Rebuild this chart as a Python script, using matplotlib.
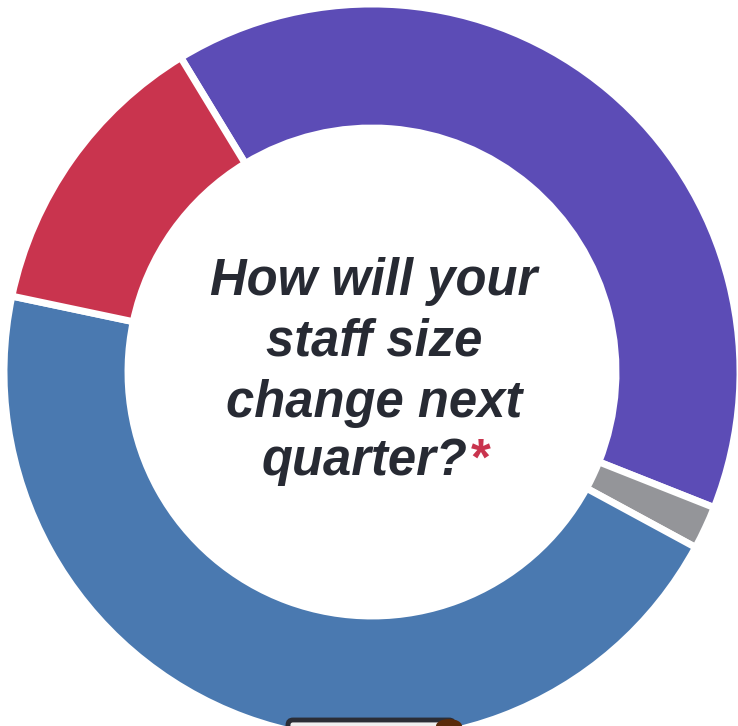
import matplotlib.pyplot as plt
from matplotlib.patches import FancyBboxPatch, Ellipse

# share of answers, clockwise from the top-left gap
labels = ['Increase', 'Not sure', 'Stay the same', 'Decrease']
shares = [39.7, 1.9, 45.4, 13.0]
colors = ['#5c4cb6', '#949599', '#4a79b0', '#c9344e']

question = ['How will your', 'staff size', 'change next', 'quarter?']

W, H = 738, 726
fig = plt.figure(figsize=(W / 100, H / 100), dpi=100)
ax = fig.add_axes([0, 0, 1, 1])

# donut
ax.pie(shares, colors=colors, startangle=121.3, counterclock=False,
       center=(372, H - 372), radius=368,
       wedgeprops=dict(width=124, edgecolor='white', linewidth=5))

# question in the hole
font = dict(family=['Liberation Sans', 'DejaVu Sans'], fontsize=36.5,
            fontweight='bold', fontstyle='italic', color='#272a33')
baselines = [295, 356, 417, 475]
for i, line in enumerate(question):
    x = 374 if i < 3 else 364
    t = ax.text(x, H - baselines[i], line, ha='center', va='baseline', **font)
ax.annotate('*', xy=(1, 0), xycoords=t, xytext=(1, 0), textcoords='offset points',
            ha='left', va='bottom', fontsize=36.5, fontweight='bold',
            fontstyle='italic', color='#c9344e',
            family=['Liberation Sans', 'DejaVu Sans'])

# bit of a card peeking in at the bottom
ax.add_patch(FancyBboxPatch((288, H - 745), 166, 25,
                            boxstyle='round,pad=0,rounding_size=5',
                            facecolor='#efefef', edgecolor='#2b2d36', linewidth=3.5))
ax.add_patch(Ellipse((449, H - 726), 26, 14, facecolor='#5a2a0a', edgecolor='none'))

ax.set_xlim(0, W)
ax.set_ylim(0, H)
ax.set_aspect('equal')
ax.axis('off')

fig.savefig('out.png', dpi=100, facecolor='white')
